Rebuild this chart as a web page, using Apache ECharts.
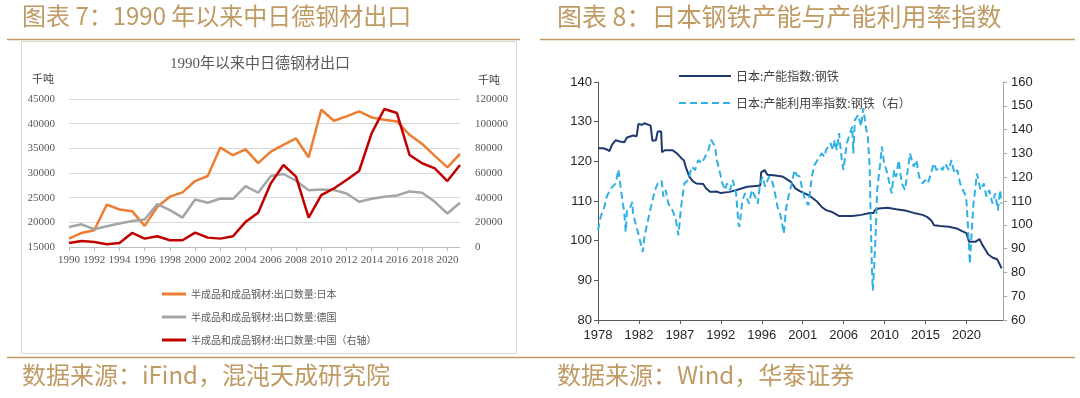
<!DOCTYPE html>
<html>
<head>
<meta charset="utf-8">
<script src="https://cdn.jsdelivr.net/npm/echarts@6/dist/echarts.min.js"></script>
<style>
  html, body { margin: 0; padding: 0; background: #fff; }
  #main { width: 1080px; height: 398px; }
</style>
</head>
<body>
<div id="main"></div>
<script>
// 图表7：中日德钢材出口（千吨）
const years = ['1990', '1991', '1992', '1993', '1994', '1995', '1996', '1997', '1998', '1999',
  '2000', '2001', '2002', '2003', '2004', '2005', '2006', '2007', '2008', '2009',
  '2010', '2011', '2012', '2013', '2014', '2015', '2016', '2017', '2018', '2019',
  '2020', '2021']
const japanExport = [16700, 17850, 18400, 23600, 22600, 22260, 19280, 23150, 25200, 26060,
  28370, 29390, 35150, 33600, 34800, 32000, 34340, 35700, 37000, 33190,
  42830, 40590, 41470, 42490, 41270, 40790, 40450, 37740, 35900, 33460,
  31150, 33870]
const germanyExport = [19070, 19600, 18600, 19200, 19750, 20290, 20560, 23690, 22470, 20970,
  24640, 23960, 24840, 24770, 27350, 26000, 29390, 29800, 28430, 26500,
  26670, 26540, 25860, 24160, 24770, 25180, 25450, 26270, 26000, 24160,
  21790, 23960]
const chinaExport = [3260, 4890, 4070, 2170, 3260, 11400, 6790, 8690, 5430, 5430,
  11670, 7600, 6790, 8690, 20360, 27700, 51600, 66500, 57000, 23900,
  42100, 47500, 54300, 61630, 92310, 111860, 108600, 74660, 67880, 63800,
  53490, 66520]

// 图表8：日本钢铁产能指数（左）
const capYears = [1978.0, 1978.6, 1979.0, 1979.3, 1979.6, 1980.0, 1980.5, 1981.0, 1981.3, 1982.0,
  1982.4, 1982.6, 1983.0, 1983.3, 1984.0, 1984.2, 1984.6, 1984.8, 1985.2, 1985.3,
  1985.6, 1986.5, 1987.0, 1987.5, 1987.8, 1988.0, 1988.4, 1988.8, 1989.2, 1990.0,
  1990.3, 1990.8, 1991.5, 1992.0, 1993.0, 1994.0, 1995.0, 1996.0, 1996.5, 1996.6,
  1997.0, 1997.3, 1998.0, 1999.0, 2000.0, 2000.5, 2001.0, 2002.0, 2003.0, 2003.5,
  2004.0, 2004.6, 2005.0, 2005.5, 2006.0, 2007.0, 2008.0, 2009.0, 2009.4, 2009.6,
  2010.0, 2011.0, 2012.0, 2013.0, 2014.0, 2015.0, 2015.5, 2016.0, 2016.3, 2017.0,
  2018.0, 2019.0, 2019.5, 2020.0, 2020.3, 2021.0, 2021.5, 2021.8, 2022.0, 2022.5,
  2023.0, 2023.5, 2023.8, 2024.0]
const capValues = [123.3, 123.3, 123.0, 122.6, 124.2, 125.3, 125.0, 124.8, 126.0, 126.5,
  126.3, 129.4, 129.2, 129.6, 129.0, 125.2, 125.3, 127.5, 127.5, 122.3,
  122.8, 122.8, 122.0, 120.8, 120.2, 118.6, 116.2, 115.0, 114.4, 114.3,
  113.2, 112.3, 112.4, 112.0, 112.3, 112.9, 113.6, 113.8, 113.9, 117.2,
  117.8, 116.6, 116.5, 116.2, 114.8, 113.2, 112.5, 111.5, 109.8, 108.5,
  107.7, 107.3, 106.8, 106.2, 106.2, 106.2, 106.5, 107.0, 107.0, 107.8,
  108.1, 108.3, 107.9, 107.6, 107.0, 106.5, 106.0, 105.1, 103.9, 103.7,
  103.5, 103.0, 102.4, 101.9, 99.7, 99.7, 100.4, 99.0, 98.3, 96.5,
  95.7, 95.3, 94.0, 93.0]

// 图表8：日本钢铁产能利用率指数（右）
const utilYears = [1978.00, 1978.30, 1978.72, 1978.99, 1979.48, 1980.02, 1980.32, 1980.62, 1981.00, 1981.16,
  1981.31, 1981.69, 1981.92, 1981.99, 1982.49, 1982.87, 1983.10, 1983.29, 1983.78, 1984.12,
  1984.50, 1984.81, 1985.26, 1985.45, 1985.72, 1986.02, 1986.48, 1986.86, 1987.16, 1987.47,
  1987.85, 1988.30, 1988.68, 1989.06, 1989.44, 1989.83, 1990.21, 1990.59, 1990.89, 1991.35,
  1991.54, 1991.73, 1991.92, 1992.18, 1992.49, 1992.68, 1993.06, 1993.36, 1993.74, 1994.01,
  1994.12, 1994.46, 1994.77, 1995.22, 1995.53, 1995.91, 1996.21, 1996.48, 1996.75, 1997.05,
  1997.51, 1997.81, 1998.11, 1998.46, 1998.76, 1999.06, 1999.18, 1999.41, 1999.71, 2000.09,
  2000.40, 2000.66, 2001.00, 2001.30, 2001.61, 2001.99, 2002.37, 2002.68, 2003.02, 2003.51,
  2003.82, 2004.00, 2004.50, 2004.80, 2004.99, 2005.22, 2005.48, 2005.79, 2005.98, 2006.36,
  2006.62, 2006.98, 2007.10, 2007.29, 2007.67, 2007.98, 2008.24, 2008.56, 2008.75, 2008.97,
  2009.08, 2009.22, 2009.33, 2009.48, 2009.67, 2009.82, 2010.17, 2010.36, 2010.62, 2011.00,
  2011.22, 2011.48, 2011.75, 2011.98, 2012.28, 2012.62, 2013.00, 2013.31, 2013.57, 2013.99,
  2014.29, 2014.60, 2014.98, 2015.29, 2015.59, 2015.97, 2016.27, 2016.59, 2017.00, 2017.27,
  2017.57, 2017.99, 2018.29, 2018.63, 2018.97, 2019.28, 2019.59, 2019.97, 2020.16, 2020.39,
  2020.61, 2020.80, 2020.99, 2021.18, 2021.37, 2021.60, 2021.98, 2022.28, 2022.59, 2022.97,
  2023.28, 2023.58, 2023.84, 2024.00]
const utilValues = [97.7, 103.3, 107.5, 111.8, 115.3, 117.4, 123.3, 114.6, 104.7, 97.0,
  106.1, 107.5, 109.6, 104.7, 97.7, 92.1, 88.6, 94.9, 103.3, 108.9,
  114.6, 117.4, 118.5, 111.8, 114.6, 108.9, 106.1, 102.6, 95.6, 107.5,
  117.4, 118.8, 124.4, 123.0, 127.2, 125.8, 128.6, 131.4, 135.7, 132.9,
  127.2, 127.2, 121.6, 117.4, 114.6, 117.4, 114.6, 118.8, 113.2, 100.5,
  99.1, 110.4, 113.2, 108.9, 114.6, 111.8, 108.9, 117.4, 120.2, 116.0,
  120.2, 118.8, 114.6, 107.5, 104.7, 99.1, 96.3, 106.1, 111.8, 117.4,
  123.0, 120.9, 120.2, 114.6, 110.4, 108.2, 120.2, 125.1, 127.2, 130.0,
  128.6, 131.4, 134.3, 131.4, 135.7, 131.4, 138.5, 127.2, 123.0, 134.3,
  137.1, 141.3, 130.0, 144.1, 146.2, 141.3, 149.0, 140.6, 137.1, 124.4,
  103.3, 82.2, 72.4, 82.2, 97.7, 114.6, 125.8, 132.9, 125.8, 121.6,
  117.4, 113.2, 123.0, 120.2, 127.2, 117.4, 114.6, 123.0, 130.0, 124.4,
  127.2, 120.2, 117.4, 118.8, 117.4, 121.6, 125.8, 123.0, 124.4, 123.0,
  125.8, 123.0, 127.2, 121.6, 123.0, 117.4, 114.6, 111.8, 100.5, 83.6,
  97.7, 108.9, 114.6, 121.6, 118.8, 114.6, 117.4, 111.8, 114.6, 108.9,
  113.2, 106.1, 114.6, 108.9]

const rightTicks = ['1978', '1982', '1987', '1992', '1996', '2001', '2006', '2010', '2015', '2020']

// 年份 -> 自1978年1月起的月数
const toMonth = (y) => (y - 1978) * 12
const capData = capYears.map((y, i) => [toMonth(y), capValues[i]])
const utilData = utilYears.map((y, i) => [toMonth(y), utilValues[i]])

const gold = '#bf9a62'
const serif = "'Liberation Serif', 'Noto Sans CJK SC'"
const cjk = "'Noto Sans CJK SC'"
const sans = "'Liberation Sans', Arial"

const option = {
  animation: false,
  graphic: [
    { type: 'rect', z: -10, shape: { x: 21.5, y: 41.5, width: 495, height: 312 },
      style: { fill: 'none', stroke: '#d9d9d9', lineWidth: 1 } },
    { type: 'line', shape: { x1: 7, y1: 39.5, x2: 520, y2: 39.5 }, style: { stroke: gold, lineWidth: 1.5 } },
    { type: 'line', shape: { x1: 540, y1: 39.5, x2: 1075, y2: 39.5 }, style: { stroke: gold, lineWidth: 1.5 } },
    { type: 'line', shape: { x1: 7, y1: 357.5, x2: 1075, y2: 357.5 }, style: { stroke: gold, lineWidth: 1.5 } },
    { type: 'text', left: 22, top: 4,
      style: { text: '图表 7：1990 年以来中日德钢材出口', font: '24px ' + cjk, fill: gold } },
    { type: 'text', left: 557, top: 4,
      style: { text: '图表 8：日本钢铁产能与产能利用率指数', font: '25px ' + cjk, fill: gold } },
    { type: 'text', left: 22, top: 363,
      style: { text: '数据来源：iFind，混沌天成研究院', font: '24px ' + cjk, fill: gold } },
    { type: 'text', left: 557, top: 363,
      style: { text: '数据来源：Wind，华泰证券', font: '24px ' + cjk, fill: gold } },
    { type: 'text', top: 57, left: 170,
      style: { text: '1990年以来中日德钢材出口', font: '15px ' + serif, fill: '#595959' } },
    { type: 'text', left: 32, top: 75,
      style: { text: '千吨', font: '11px ' + serif, fill: '#404040' } },
    { type: 'text', left: 478, top: 76,
      style: { text: '千吨', font: '11px ' + serif, fill: '#404040' } }
  ],
  legend: [
    {
      orient: 'vertical',
      left: 157,
      top: 282,
      icon: 'rect',
      itemWidth: 24,
      itemHeight: 3,
      itemGap: 9,
      data: ['半成品和成品钢材:出口数量:日本', '半成品和成品钢材:出口数量:德国', '半成品和成品钢材:出口数量:中国（右轴）'],
      textStyle: { fontFamily: cjk, fontSize: 10, color: '#595959', lineHeight: 14 }
    },
    {
      orient: 'vertical',
      left: 673,
      top: 64,
      itemWidth: 52,
      itemHeight: 14,
      itemGap: 13,
      // 只画线，不画中间的圆点
      itemStyle: { opacity: 0 },
      data: ['日本:产能指数:钢铁', '日本:产能利用率指数:钢铁（右）'],
      textStyle: { fontFamily: cjk, fontSize: 12, color: '#404040', lineHeight: 14 }
    }
  ],
  grid: [
    { left: 69, top: 99, width: 391, height: 148 },
    { left: 598, top: 82, width: 405, height: 238 }
  ],
  xAxis: [
    {
      type: 'category',
      gridIndex: 0,
      data: years,
      boundaryGap: false,
      axisLine: { lineStyle: { color: '#bfbfbf', width: 1 } },
      axisTick: { show: true, interval: 1, length: 4, lineStyle: { color: '#bfbfbf' } },
      axisLabel: { interval: 1, fontFamily: serif, fontSize: 11, color: '#595959', margin: 8 }
    },
    {
      type: 'value',
      gridIndex: 1,
      min: 0,
      max: 554,
      interval: 56,
      axisLine: { lineStyle: { color: '#595959', width: 1 } },
      axisTick: { show: true, length: 4, lineStyle: { color: '#595959' } },
      axisLabel: {
        fontFamily: sans,
        fontSize: 13,
        color: '#262626',
        margin: 9,
        showMaxLabel: false,
        formatter: (v) => rightTicks[Math.round(v / 56)] || ''
      },
      splitLine: { show: false }
    }
  ],
  yAxis: [
    {
      type: 'value',
      gridIndex: 0,
      min: 15000,
      max: 45000,
      interval: 5000,
      axisLine: { show: false },
      axisTick: { show: false },
      axisLabel: { fontFamily: serif, fontSize: 11, color: '#595959', margin: 14, formatter: (v) => String(v) },
      splitLine: { lineStyle: { color: '#d9d9d9', width: 1.2 } }
    },
    {
      type: 'value',
      gridIndex: 0,
      position: 'right',
      min: 0,
      max: 120000,
      interval: 20000,
      axisLine: { show: false },
      axisTick: { show: false },
      axisLabel: { fontFamily: serif, fontSize: 11, color: '#595959', margin: 15, formatter: (v) => String(v) },
      splitLine: { show: false }
    },
    {
      type: 'value',
      gridIndex: 1,
      min: 80,
      max: 140,
      interval: 10,
      axisLine: { show: true, lineStyle: { color: '#595959', width: 1 } },
      axisTick: { show: true, length: 4, lineStyle: { color: '#595959' } },
      axisLabel: { fontFamily: sans, fontSize: 13, color: '#262626', margin: 6 },
      splitLine: { show: false }
    },
    {
      type: 'value',
      gridIndex: 1,
      position: 'right',
      min: 60,
      max: 160,
      interval: 10,
      axisLine: { show: true, lineStyle: { color: '#a6a6a6', width: 1 } },
      axisTick: { show: true, length: 4, lineStyle: { color: '#a6a6a6' } },
      axisLabel: { fontFamily: sans, fontSize: 13, color: '#262626', margin: 8 },
      splitLine: { show: false }
    }
  ],
  series: [
    {
      name: '半成品和成品钢材:出口数量:日本',
      type: 'line',
      xAxisIndex: 0,
      yAxisIndex: 0,
      data: japanExport,
      symbol: 'none',
      color: '#ed7d31',
      lineStyle: { width: 2.5 }
    },
    {
      name: '半成品和成品钢材:出口数量:德国',
      type: 'line',
      xAxisIndex: 0,
      yAxisIndex: 0,
      data: germanyExport,
      symbol: 'none',
      color: '#a5a5a5',
      lineStyle: { width: 2.5 }
    },
    {
      name: '半成品和成品钢材:出口数量:中国（右轴）',
      type: 'line',
      xAxisIndex: 0,
      yAxisIndex: 1,
      data: chinaExport,
      symbol: 'none',
      color: '#c00000',
      lineStyle: { width: 2.5 }
    },
    {
      name: '日本:产能指数:钢铁',
      type: 'line',
      xAxisIndex: 1,
      yAxisIndex: 2,
      data: capData,
      symbol: 'none',
      color: '#1f3a6e',
      lineStyle: { width: 2 }
    },
    {
      name: '日本:产能利用率指数:钢铁（右）',
      type: 'line',
      xAxisIndex: 1,
      yAxisIndex: 3,
      data: utilData,
      symbol: 'none',
      color: '#2fb1e6',
      lineStyle: { width: 2, type: [7, 4] }
    }
  ]
}

const myChart = echarts.init(document.getElementById('main'))
myChart.setOption(option)
</script>
</body>
</html>
